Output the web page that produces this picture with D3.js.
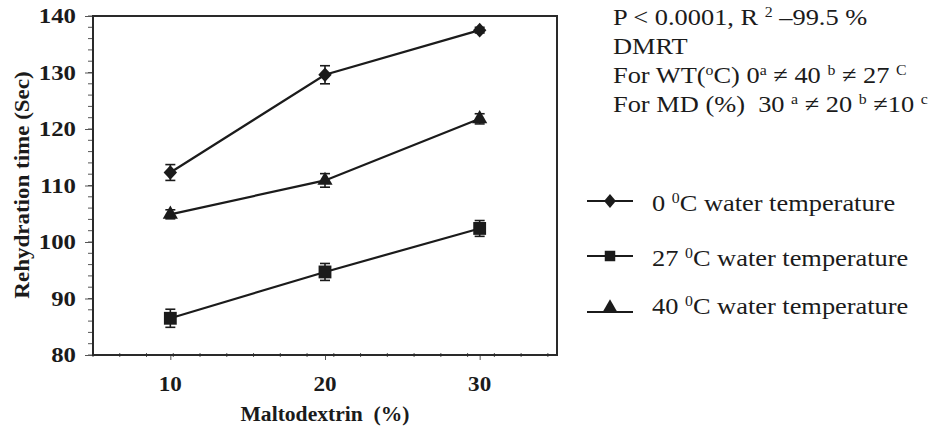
<!DOCTYPE html>
<html>
<head>
<meta charset="utf-8">
<script src="https://cdn.jsdelivr.net/npm/d3@7"></script>
<style>
  body { margin: 0; background: #fff; }
  svg { display: block; }
  svg text { font-family: "Liberation Serif", "Times New Roman", Times, serif; white-space: pre; }
</style>
</head>
<body>
<svg width="938" height="430"></svg>
<script>
// Rehydration time vs maltodextrin, three water temperatures
var maltodextrin = [10, 20, 30];
var series = ["0", "27", "40"];
var wt0 = [112.3, 129.6, 137.5],  err0 = [1.4, 1.6, 0.5];
var wt27 = [86.5, 94.7, 102.4],   err27 = [1.6, 1.5, 1.4];
var wt40 = [104.9, 110.9, 121.8], err40 = [0.8, 1.2, 0.9];
var yTicks = [80, 90, 100, 110, 120, 130, 140];
var xTicks = [10, 20, 30];

var svg = d3.select("svg"),
    width = +svg.attr("width"),
    height = +svg.attr("height");

var box = {left: 93, right: 557, top: 16, bottom: 355};
var ink = "#1b1b1b";

var x = d3.scaleLinear().domain([5, 35]).range([box.left, box.right]);
var y = d3.scaleLinear().domain([80, 140]).range([box.bottom, box.top]);

// stretched text helper (original figure text is a bit wide)
function label(g, px, py, str, opts) {
    var t = g.append("text")
        .attr("transform", "translate(" + px + "," + py + ")" + (opts.rotate ? " rotate(" + opts.rotate + ")" : "") + " scale(" + (opts.sx || 1) + ",1)")
        .attr("font-size", opts.size)
        .attr("font-weight", opts.bold ? "bold" : "normal")
        .attr("text-anchor", opts.anchor || "start")
        .attr("fill", ink);
    var parts = typeof str === "string" ? [{t: str}] : str;
    parts.forEach(function(p) {
        var s = t.append("tspan").text(p.t);
        if (p.sup) s.attr("font-size", opts.size * 0.6).attr("baseline-shift", "super");
    });
    return t;
}

// minor ticks
var g = svg.append("g");
g.selectAll("line.ymin").data(d3.range(80, 141, 2)).enter().append("line")
    .attr("x1", box.left - 5).attr("x2", box.left)
    .attr("y1", function(d) { return y(d); }).attr("y2", function(d) { return y(d); })
    .attr("stroke", "#555").attr("stroke-width", 1);
g.selectAll("line.xmin").data(d3.range(5, 35, 1.73)).enter().append("line")
    .attr("x1", function(d) { return x(d); }).attr("x2", function(d) { return x(d); })
    .attr("y1", box.bottom - 2).attr("y2", box.bottom + 2)
    .attr("stroke", "#555").attr("stroke-width", 1);

// y axis
var yAxis = svg.append("g")
    .attr("transform", "translate(" + box.left + ",0)")
    .call(d3.axisLeft(y).tickValues(yTicks).tickSize(8).tickFormat(""));
yAxis.select(".domain").remove();
yAxis.selectAll("line").attr("stroke", "#555");
yTicks.forEach(function(v) {
    label(svg, 76, y(v) + 7, String(v), {size: 21, bold: true, anchor: "end", sx: 1.18});
});

// x axis
var xAxis = svg.append("g")
    .attr("transform", "translate(0," + box.bottom + ")")
    .call(d3.axisBottom(x).tickValues(xTicks).tickSize(5).tickFormat(""));
xAxis.select(".domain").remove();
xAxis.selectAll("line").attr("stroke", "#555");
xTicks.forEach(function(v) {
    label(svg, x(v), 391, String(v), {size: 21, bold: true, anchor: "middle", sx: 1.1});
});

// frame
svg.append("rect")
    .attr("x", box.left).attr("y", box.top)
    .attr("width", box.right - box.left).attr("height", box.bottom - box.top)
    .attr("fill", "none").attr("stroke", "#2a2a2a").attr("stroke-width", 2);

// axis titles
label(svg, 325, 421, "Maltodextrin  (%)", {size: 20, bold: true, anchor: "middle", sx: 1.08});
label(svg, 29, 185, "Rehydration time (Sec)", {size: 20, bold: true, anchor: "middle", rotate: -90, sx: 1.15});

// symbols
var diamond = d3.symbol().type(d3.symbolDiamond).size(100);
var square = d3.symbol().type(d3.symbolSquare).size(165);
var triangle = d3.symbol().type(d3.symbolTriangle).size(100);

var data = [
    {name: series[0], vals: wt0, errs: err0, sym: diamond},
    {name: series[1], vals: wt27, errs: err27, sym: square},
    {name: series[2], vals: wt40, errs: err40, sym: triangle}
];

var line = d3.line()
    .x(function(d) { return x(d.md); })
    .y(function(d) { return y(d.v); });

data.forEach(function(s) {
    var pts = maltodextrin.map(function(m, i) { return {md: m, v: s.vals[i], e: s.errs[i]}; });
    var sg = svg.append("g");
    sg.append("path").datum(pts)
        .attr("d", line)
        .attr("fill", "none").attr("stroke", ink).attr("stroke-width", 2.2);
    var eb = sg.selectAll("g.err").data(pts).enter().append("g").attr("stroke", ink).attr("stroke-width", 1.6);
    eb.append("line")
        .attr("x1", function(d) { return x(d.md); }).attr("x2", function(d) { return x(d.md); })
        .attr("y1", function(d) { return y(d.v - d.e); }).attr("y2", function(d) { return y(d.v + d.e); });
    [-1, 1].forEach(function(sgn) {
        eb.append("line")
            .attr("x1", function(d) { return x(d.md) - 5; }).attr("x2", function(d) { return x(d.md) + 5; })
            .attr("y1", function(d) { return y(d.v + sgn * d.e); }).attr("y2", function(d) { return y(d.v + sgn * d.e); });
    });
    sg.selectAll("path.pt").data(pts).enter().append("path")
        .attr("class", "pt")
        .attr("transform", function(d) {
            var sx = s.sym === diamond ? " scale(1.25,0.78)" : "";
            return "translate(" + x(d.md) + "," + y(d.v) + ")" + sx;
        })
        .attr("d", s.sym)
        .attr("fill", ink);
});

// stats annotation
var note = svg.append("g");
var noteLines = [
    [{t: "P < 0.0001, R "}, {t: "2", sup: true}, {t: " \u201399.5 %"}],
    [{t: "DMRT"}],
    [{t: "For WT("}, {t: "o", sup: true}, {t: "C) 0"}, {t: "a", sup: true}, {t: " \u2260 40 "}, {t: "b", sup: true}, {t: " \u2260 27 "}, {t: "C", sup: true}],
    [{t: "For MD (%)  30 "}, {t: "a", sup: true}, {t: " \u2260 20 "}, {t: "b", sup: true}, {t: " \u226010 "}, {t: "c", sup: true}]
];
noteLines.forEach(function(parts, i) {
    label(note, 613, 25 + i * 29, parts, {size: 24, sx: 1.1});
});

// legend
var legendLabels = [
    [{t: "0 "}, {t: "0", sup: true}, {t: "C water temperature"}],
    [{t: "27 "}, {t: "0", sup: true}, {t: "C water temperature"}],
    [{t: "40 "}, {t: "0", sup: true}, {t: "C water temperature"}]
];
var legendY = [201, 256, 312];
var leg = svg.append("g");
data.forEach(function(s, i) {
    var ly = legendY[i];
    leg.append("line").attr("x1", 587).attr("x2", 633).attr("y1", ly).attr("y2", ly)
        .attr("stroke", ink).attr("stroke-width", 2);
    var off = s.sym === triangle ? -4 : 0;
    leg.append("path")
        .attr("transform", "translate(610," + (ly + off) + ")" + (s.sym === diamond ? " scale(1.1,0.75)" : ""))
        .attr("d", s.sym === square ? d3.symbol().type(d3.symbolSquare).size(110)() : s.sym())
        .attr("fill", ink);
    label(leg, 652, ly + (s.sym === triangle ? 2 : 10), legendLabels[i], {size: 24, sx: 1.1});
});
</script>
</body>
</html>
